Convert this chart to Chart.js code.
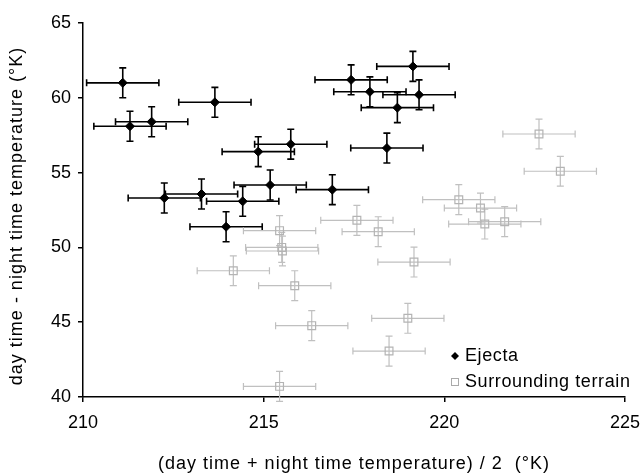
<!DOCTYPE html>
<html>
<head>
<meta charset="utf-8">
<script src="https://cdn.jsdelivr.net/npm/chart.js@4/dist/chart.umd.min.js"></script>
<style>
  html, body { margin: 0; padding: 0; background: #fff; }
  #wrap { width: 642px; height: 476px; }
</style>
</head>
<body>
<div id="wrap"><canvas id="chart"></canvas></div>
<script>
// Ejecta (black diamonds)
const ejectaX = [211.1, 213.65, 211.3, 211.9, 214.85, 215.75, 212.25, 213.28, 214.42, 215.18, 216.9, 213.96, 217.42, 219.13, 217.94, 219.3, 218.7, 218.41];
const ejectaY = [61.0, 59.7, 58.1, 58.4, 56.4, 56.9, 53.3, 53.57, 53.08, 54.17, 53.86, 51.38, 61.2, 62.1, 60.4, 60.2, 59.34, 56.64];

// Surrounding terrain (grey squares)
const terrainX = [215.44, 215.5, 215.52, 217.58, 218.17, 214.16, 215.86, 219.16, 216.33, 218.99, 218.47, 215.44, 223.21, 220.4, 221.0, 221.12, 221.67, 222.62];
const terrainY = [51.12, 50.0, 49.76, 51.81, 51.05, 48.44, 47.44, 49.02, 44.77, 45.26, 43.07, 40.71, 55.09, 53.19, 52.63, 51.56, 51.72, 57.58];

// error bars (+/- K)
const errX = 1.0;
const errY = 1.0;

const xTicks = [210, 215, 220, 225];
const yTicks = [40, 45, 50, 55, 60, 65];

const xTitle = '(day time + night time temperature) / 2  (°K)';
const yTitle = 'day time - night time temperature (°K)';

const FONT = '"Liberation Sans", Arial, sans-serif';

function toPoints(xs, ys) {
  return xs.map((x, i) => ({ x: x, y: ys[i] }));
}

const errorBars = {
  id: 'errorBars',
  beforeDatasetsDraw(chart) {
    const ctx = chart.ctx;
    const xs = chart.scales.x, ys = chart.scales.y;
    chart.data.datasets.forEach((ds) => {
      ctx.save();
      ctx.strokeStyle = ds.barColor;
      ctx.lineWidth = ds.barWidth;
      ds.data.forEach((p) => {
        const cx = xs.getPixelForValue(p.x), cy = ys.getPixelForValue(p.y);
        const x0 = xs.getPixelForValue(p.x - errX), x1 = xs.getPixelForValue(p.x + errX);
        const y0 = ys.getPixelForValue(p.y - errY), y1 = ys.getPixelForValue(p.y + errY);
        const c = 3.5;
        ctx.beginPath();
        ctx.moveTo(x0, cy); ctx.lineTo(x1, cy);
        ctx.moveTo(x0, cy - c); ctx.lineTo(x0, cy + c);
        ctx.moveTo(x1, cy - c); ctx.lineTo(x1, cy + c);
        ctx.moveTo(cx, y0); ctx.lineTo(cx, y1);
        ctx.moveTo(cx - c, y0); ctx.lineTo(cx + c, y0);
        ctx.moveTo(cx - c, y1); ctx.lineTo(cx + c, y1);
        ctx.stroke();
      });
      ctx.restore();
    });
  }
};

// axis titles and the legend drawn by hand (the original uses wider spaced text)
const extras = {
  id: 'extras',
  afterDraw(chart) {
    const ctx = chart.ctx;
    const area = chart.chartArea;
    ctx.save();
    ctx.fillStyle = '#000';
    ctx.font = '18px ' + FONT;
    ctx.letterSpacing = '1px';
    ctx.textAlign = 'center';
    ctx.textBaseline = 'middle';
    ctx.fillText(xTitle, (area.left + area.right) / 2, 464);
    ctx.save();
    ctx.translate(17, 216);
    ctx.rotate(-Math.PI / 2);
    ctx.fillText(yTitle, 0, 0);
    ctx.restore();

    // legend
    ctx.letterSpacing = '0.6px';
    ctx.textAlign = 'left';
    let lx = 455, ly = 356;
    ctx.beginPath();
    ctx.moveTo(lx, ly - 4); ctx.lineTo(lx + 4, ly); ctx.lineTo(lx, ly + 4); ctx.lineTo(lx - 4, ly);
    ctx.closePath();
    ctx.fill();
    ctx.fillText(chart.data.datasets[0].label, 465, ly);
    ly = 382;
    ctx.strokeStyle = '#aaa';
    ctx.lineWidth = 1;
    ctx.strokeRect(lx - 3.5, ly - 3.5, 7, 7);
    ctx.fillText(chart.data.datasets[1].label, 465, ly);
    ctx.restore();
  }
};

const tickFont = { family: FONT, size: 18 };

new Chart(document.getElementById('chart'), {
  type: 'scatter',
  data: {
    datasets: [
      {
        label: 'Ejecta',
        data: toPoints(ejectaX, ejectaY),
        pointStyle: 'rectRot',
        pointRadius: 4.5,
        backgroundColor: '#000',
        borderColor: '#000',
        borderWidth: 1,
        barColor: '#000',
        barWidth: 1.6
      },
      {
        label: 'Surrounding terrain',
        data: toPoints(terrainX, terrainY),
        pointStyle: 'rect',
        pointRadius: 5.5,
        backgroundColor: 'rgba(255,255,255,0)',
        borderColor: '#b4b4b4',
        borderWidth: 1.2,
        barColor: '#c0c0c0',
        barWidth: 1.2
      }
    ]
  },
  options: {
    responsive: true,
    maintainAspectRatio: false,
    animation: false,
    layout: { padding: { top: 23, right: 17, left: 0, bottom: 0 } },
    plugins: {
      legend: { display: false },
      tooltip: { enabled: false }
    },
    scales: {
      x: {
        type: 'linear',
        min: 210, max: 225,
        afterBuildTicks: (s) => { s.ticks = xTicks.map(v => ({ value: v })); },
        afterFit: (s) => { s.height = 79; s.paddingRight = 0; s.paddingLeft = 0; },
        border: { color: '#000', width: 1.5 },
        grid: { drawOnChartArea: false, color: '#000', tickLength: 5, lineWidth: 1.5 },
        ticks: { color: '#000', font: tickFont, padding: 10, maxRotation: 0 }
      },
      y: {
        type: 'linear',
        min: 40, max: 65,
        afterBuildTicks: (s) => { s.ticks = yTicks.map(v => ({ value: v })); },
        afterFit: (s) => { s.width = 83; },
        border: { color: '#000', width: 1.5 },
        grid: { drawOnChartArea: false, color: '#000', tickLength: 5, lineWidth: 1.5 },
        ticks: { color: '#000', font: tickFont, padding: 7 }
      }
    }
  },
  plugins: [errorBars, extras]
});
</script>
</body>
</html>
